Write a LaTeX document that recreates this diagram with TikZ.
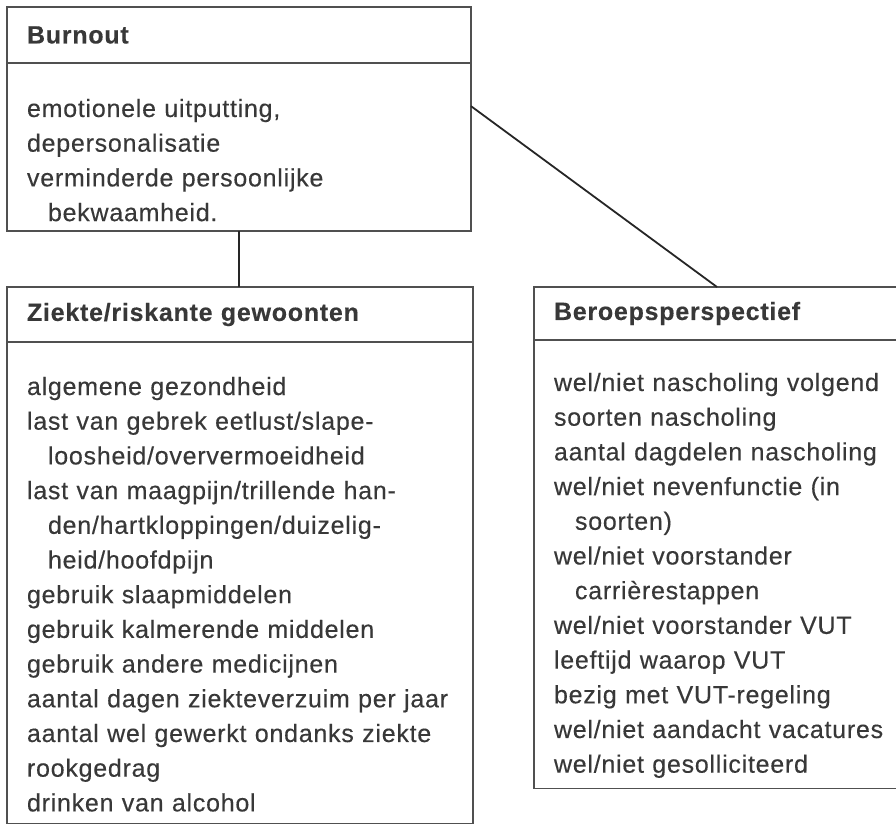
\documentclass[tikz,border=0pt]{standalone}
\usepackage{fontspec}
\setmainfont{Liberation Sans}[LetterSpace=3, FakeBold=0.3]
\usetikzlibrary{positioning}

\definecolor{inkgray}{HTML}{383838}
\definecolor{rulegray}{HTML}{505050}

% indent of a continued line
\newcommand{\cont}{\hspace*{10.5pt}}

\begin{document}
\begin{tikzpicture}[x=0.5pt, y=-0.5pt,
  every node/.style={font=\fontsize{12.5}{17.35}\selectfont, text=inkgray},
  head/.style={draw=rulegray, line width=0.6pt, outer sep=0pt, inner xsep=10pt, inner ysep=0pt,
    align=left, anchor=north west, font=\fontsize{12.5}{17.35}\selectfont\bfseries},
  body/.style={draw=rulegray, line width=0.6pt, outer sep=0pt, inner xsep=10pt, inner ysep=0pt,
    align=left, anchor=north},
  link/.style={draw=black!85, line width=0.9pt}]
  \useasboundingbox (0,0) rectangle (896,824);

  % Burnout
  \node[head, text width=212pt, minimum height=28pt] (burnouthead) at (7,7) {Burnout};
  \node[body, text width=212pt, below=0pt of burnouthead] (burnoutbody)
    {\rule{0pt}{27pt}emotionele uitputting,\\
     depersonalisatie\\
     verminderde persoonlijke\\
     \cont bekwaamheid.\rule[-5pt]{0pt}{5pt}};

  % Ziekte
  \node[head, text width=213pt, minimum height=27.5pt] (ziektehead) at (7,287) {Ziekte/riskante gewoonten};
  \node[body, text width=213pt, below=0pt of ziektehead] (ziektebody)
    {\rule{0pt}{26.5pt}algemene gezondheid\\
     last van gebrek eetlust/slape-\\
     \cont loosheid/oververmoeidheid\\
     last van maagpijn/trillende han-\\
     \cont den/hartkloppingen/duizelig-\\
     \cont heid/hoofdpijn\\
     gebruik slaapmiddelen\\
     gebruik kalmerende middelen\\
     gebruik andere medicijnen\\
     \mbox{aantal dagen ziekteverzuim per jaar}\\
     \mbox{aantal wel gewerkt ondanks ziekte}\\
     rookgedrag\\
     drinken van alcohol\rule[-6pt]{0pt}{6pt}};

  % Beroepsperspectief
  \node[head, text width=163pt, minimum height=26.5pt] (beroepshead) at (534,287) {Beroepsperspectief};
  \node[body, text width=163pt, below=0pt of beroepshead] (beroepsbody)
    {\rule{0pt}{25.5pt}\mbox{wel/niet nascholing volgend}\\
     soorten nascholing\\
     \mbox{aantal dagdelen nascholing}\\
     wel/niet nevenfunctie (in\\
     \cont soorten)\\
     wel/niet voorstander\\
     \cont carrièrestappen\\
     wel/niet voorstander VUT\\
     leeftijd waarop VUT\\
     bezig met VUT-regeling\\
     \mbox{wel/niet aandacht vacatures}\\
     \mbox{wel/niet gesolliciteerd}\rule[-8pt]{0pt}{8pt}};

  % Links
  \draw[link] (burnoutbody.south) -- (burnoutbody.south |- ziektehead.north);
  \draw[link] (burnoutbody.10.9) -- (beroepshead.north);
\end{tikzpicture}
\end{document}
